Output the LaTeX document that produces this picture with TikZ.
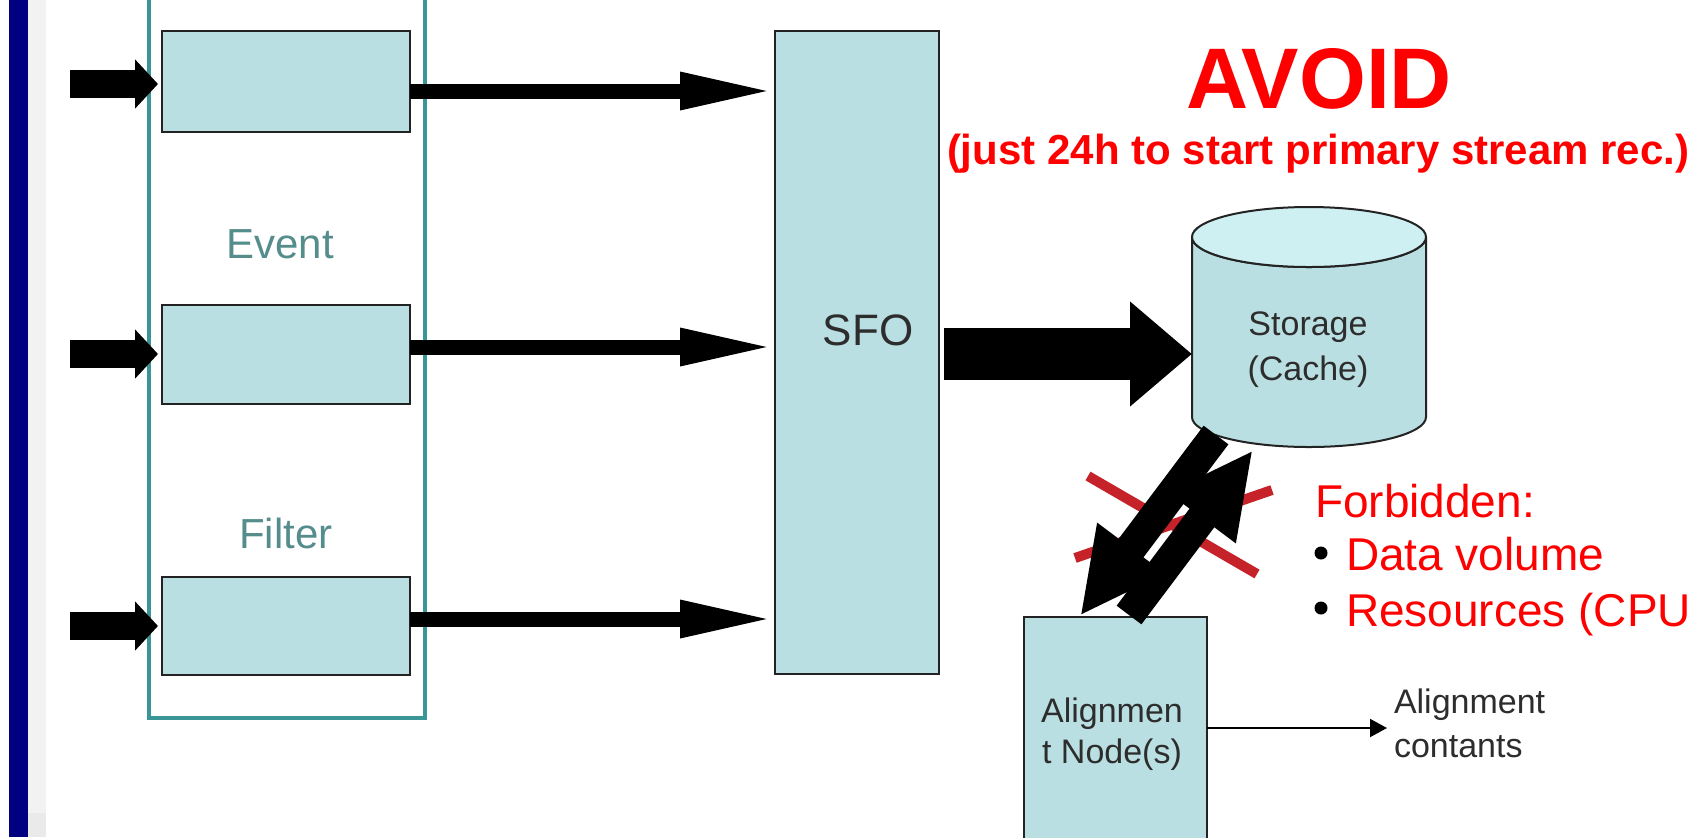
\documentclass[tikz,border=0pt]{standalone}
\usepackage{fontspec}
\setmainfont{Liberation Sans}
\usetikzlibrary{arrows.meta}
\definecolor{boxfill}{RGB}{186,223,226}
\definecolor{topfill}{RGB}{206,240,243}
\definecolor{boxline}{RGB}{35,35,35}
\definecolor{grpteal}{RGB}{58,150,150}
\definecolor{labteal}{RGB}{85,140,140}
\definecolor{navybar}{RGB}{0,0,128}
\definecolor{stripgrey}{RGB}{242,242,242}
\definecolor{stripgreyb}{RGB}{234,234,234}
\definecolor{redx}{RGB}{198,34,42}
\definecolor{redtxt}{RGB}{255,0,0}
\definecolor{darktxt}{RGB}{45,45,45}
\tikzset{
  bx/.style={draw=boxline, line width=1pt, fill=boxfill, inner sep=0pt, outer sep=0pt, anchor=north west},
  inarrow/.style={line width=14pt, -{Triangle[length=11.5pt,width=24pt]}, shorten >=2pt},
  outarrow/.style={line width=7.5pt, -{Triangle[length=47.5pt,width=17pt]}},
  bigarrow/.style={line width=26pt, -{Triangle[length=31pt,width=50.5pt]}, shorten <=2.5pt},
  diagarrow/.style={line width=15.5pt, -{Triangle[length=42.5pt,width=39pt]}},
  thinarrow/.style={line width=1pt, -{Triangle[length=8.5pt,width=9pt]}},
  crossline/.style={draw=redx, line width=5pt},
  lab/.style={inner sep=0pt, outer sep=0pt},
}
\begin{document}
\begin{tikzpicture}[x=0.5pt,y=-0.5pt]
\useasboundingbox (0,0) rectangle (1694,837);
\clip (0,0) rectangle (1694,837);
\fill[white] (0,0) rectangle (1694,837);
% left strip
\fill[stripgrey] (28,0) rectangle (46,837);
\fill[stripgreyb] (28,813) rectangle (46,837);
\fill[navybar] (9,0) rectangle (28,837);
% group box
\node[draw=grpteal, line width=2pt, inner sep=0pt, outer sep=0pt, anchor=north west,
      minimum width=138pt, minimum height=369pt] (grp) at (149,-20) {};
% filter boxes
\node[bx, minimum width=124pt, minimum height=50.5pt] (b1) at (162,31) {};
\node[bx, minimum width=124pt, minimum height=49.5pt] (b2) at (162,305) {};
\node[bx, minimum width=124pt, minimum height=49pt] (b3) at (162,577) {};
\node[lab, anchor=base, text=labteal, font=\fontsize{21pt}{25pt}\selectfont] (tev) at (280,258) {Event};
\node[lab, anchor=base, text=labteal, font=\fontsize{21pt}{25pt}\selectfont] (tfi) at (286,548) {Filter};
% SFO
\node[bx, minimum width=82pt, minimum height=321.5pt] (sfo) at (775,31) {};
\node[lab, anchor=base, text=darktxt, font=\fontsize{22pt}{26pt}\selectfont] (tsfo) at (868,345) {SFO};
% input arrows
\coordinate (i1) at (70,84);
\coordinate (i2) at (70,354);
\coordinate (i3) at (70,626);
\draw[inarrow] (i1) -- (b1.west |- i1);
\draw[inarrow] (i2) -- (b2.west |- i2);
\draw[inarrow] (i3) -- (b3.west |- i3);
% output arrows
\coordinate (o1) at (0,91);
\coordinate (o2) at (0,347);
\coordinate (o3) at (0,619);
\draw[outarrow] (b1.east |- o1) -- (sfo.west |- o1);
\draw[outarrow] (b2.east |- o2) -- (sfo.west |- o2);
\draw[outarrow] (b3.east |- o3) -- (sfo.west |- o3);
% storage cylinder
\draw[boxline, line width=1pt, fill=boxfill] (1192,237) -- (1192,417)
  arc[start angle=180, end angle=0, x radius=117, y radius=30] -- (1426,237)
  arc[start angle=0, end angle=180, x radius=117, y radius=30] -- cycle;
\draw[boxline, line width=1pt, fill=topfill] (1309,237) ellipse[x radius=117, y radius=30];
\node[lab, minimum width=117pt, minimum height=120pt] (stor) at (1309,327) {};
\node[lab, anchor=base, text=darktxt, font=\fontsize{17pt}{20pt}\selectfont] (tst1) at (1308,335) {Storage};
\node[lab, anchor=base, text=darktxt, font=\fontsize{17pt}{20pt}\selectfont] (tst2) at (1308,380) {(Cache)};
% big arrow
\coordinate (bg) at (0,354);
\draw[bigarrow] (sfo.east |- bg) -- (stor.west |- bg);
% alignment node
\node[bx, minimum width=91.5pt, minimum height=130pt] (aln) at (1024,617) {};
\node[lab, anchor=base, text=darktxt, font=\fontsize{17pt}{20pt}\selectfont] (tal1) at (1112,722) {Alignmen};
\node[lab, anchor=base, text=darktxt, font=\fontsize{17pt}{20pt}\selectfont] (tal2) at (1112,763) {t Node(s)};
% red cross
\coordinate (x1a) at (1088,476);
\coordinate (x1b) at (1257,574);
\coordinate (x2a) at (1272,490);
\coordinate (x2b) at (1075,558);
\draw[crossline] (x1a) -- (x1b);
\draw[crossline] (x2a) -- (x2b);
% diagonal arrows
\coordinate (aTail) at (1216,435);
\coordinate (aTip) at (1080,616);
\coordinate (bTail) at (1129,615);
\coordinate (bTip) at (1253,450);
\draw[diagarrow] (aTail) -- (aTip);
\draw[diagarrow] (bTail) -- (bTip);
% alignment constants
\coordinate (tc) at (0,728);
\coordinate (aconst) at (1387,728);
\draw[thinarrow] (aln.east |- tc) -- (aconst);
\node[lab, anchor=base west, text=darktxt, font=\fontsize{17pt}{20pt}\selectfont] (tac1) at (1394,713) {Alignment};
\node[lab, anchor=base west, text=darktxt, font=\fontsize{17pt}{20pt}\selectfont] (tac2) at (1394,757) {contants};
% red texts
\node[lab, anchor=base, text=redtxt, font=\fontsize{43pt}{50pt}\selectfont\bfseries] (avoid) at (1319,108) {AVOID};
\node[lab, anchor=base west, text=redtxt, font=\fontsize{21pt}{25pt}\selectfont\bfseries] (just) at (947,164) {(just 24h to start primary stream rec.)};
\node[lab, anchor=base west, text=redtxt, font=\fontsize{23pt}{28pt}\selectfont] (forb) at (1315,517) {Forbidden:};
\fill[black] (1321,553) circle[radius=6.5];
\fill[black] (1321,608) circle[radius=6.5];
\node[lab, anchor=base west, text=redtxt, font=\fontsize{23pt}{28pt}\selectfont] (dvol) at (1346,570) {Data volume};
\node[lab, anchor=base west, text=redtxt, font=\fontsize{23pt}{28pt}\selectfont] (res) at (1346,626) {Resources (CPU};
\end{tikzpicture}
\end{document}
